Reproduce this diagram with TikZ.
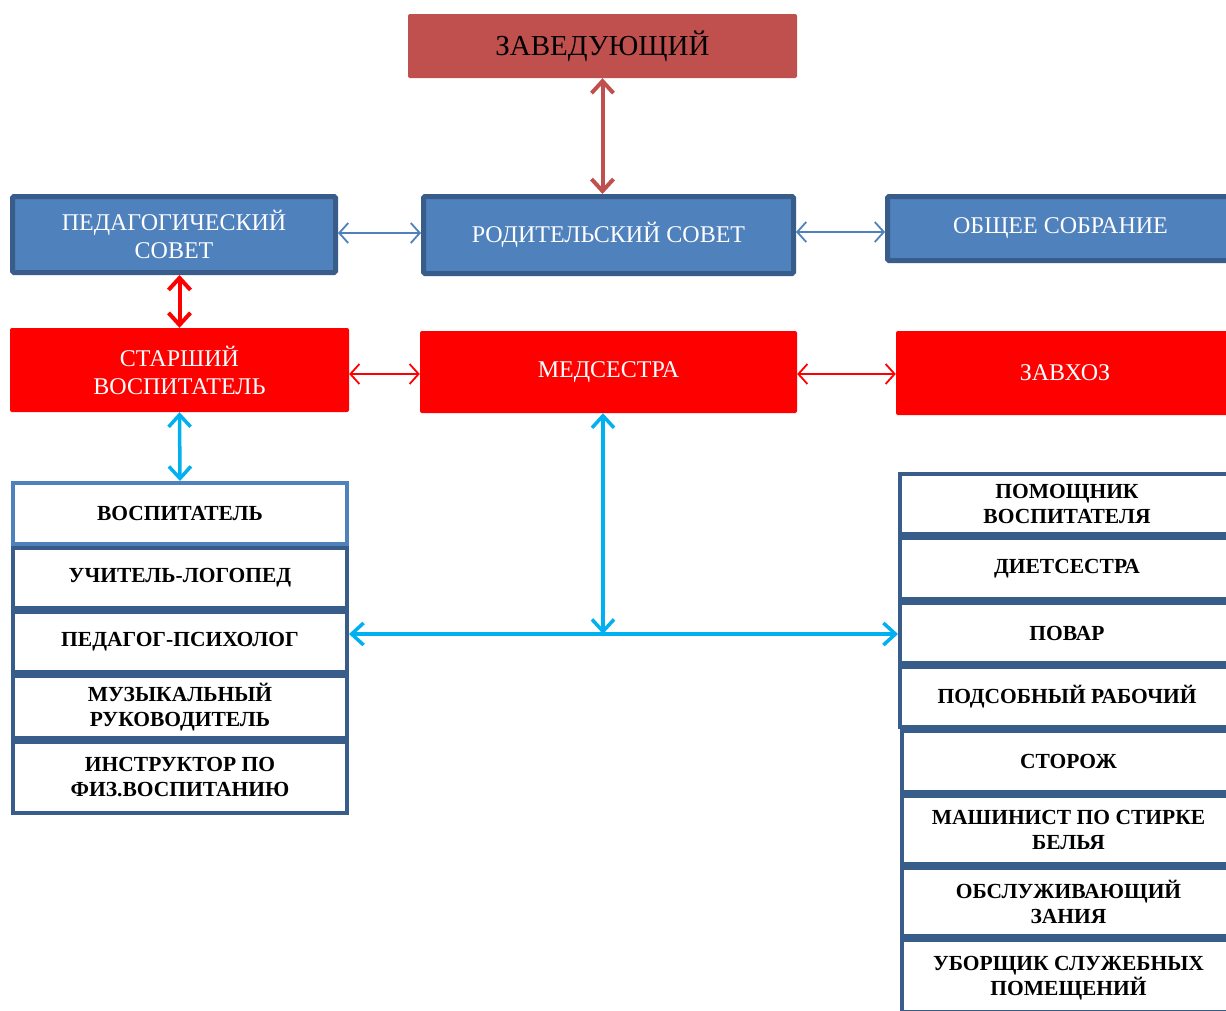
\documentclass[tikz,border=0pt]{standalone}
\usepackage{fontspec}
\setmainfont{Liberation Serif}
\usetikzlibrary{arrows.meta}
\definecolor{zred}{HTML}{C0504D}
\definecolor{bfill}{HTML}{4F81BD}
\definecolor{bline}{HTML}{385D8A}
\definecolor{pred}{HTML}{FF0000}
\definecolor{cyanc}{HTML}{00B0F0}
\tikzset{
  headfont/.style={font=\fontsize{24}{28}\selectfont},
  listfont/.style={font=\bfseries\fontsize{21.5}{25}\selectfont},
  bluebox/.style={draw=bline, line width=5pt, fill=bfill, text=white, headfont, align=center, rounded corners=1.5pt, inner sep=0pt},
  redbox/.style={fill=pred, text=white, headfont, align=center, rounded corners=2pt, inner sep=0pt},
  listbox/.style={draw=bline, line width=4pt, fill=white, text=black, listfont, align=center, inner sep=0pt, minimum width=334pt},
  thinarr/.style={line width=1.8pt, {Straight Barb[length=9pt,width=20pt]}-{Straight Barb[length=9pt,width=20pt]}},
  thickarr/.style={line width=4pt, {Straight Barb[length=12pt,width=22pt]}-{Straight Barb[length=12pt,width=22pt]}},
}
\begin{document}
\begin{tikzpicture}[x=1pt,y=-1pt]
\clip (0,0) rectangle (1226,1010);
\fill[white] (0,0) rectangle (1226,1010);
% top
\node[fill=zred, rounded corners=2pt, minimum width=389pt, minimum height=64pt, inner sep=0pt, font=\fontsize{29}{33}\selectfont] (zav) at (602.5,46) {ЗАВЕДУЮЩИЙ};
% blue row
\node[bluebox, minimum width=323pt, minimum height=76pt] (ped) at (174,234.5) {ПЕДАГОГИЧЕСКИЙ\\СОВЕТ};
\node[bluebox, minimum width=370pt, minimum height=77pt] (rod) at (608.5,235) {РОДИТЕЛЬСКИЙ СОВЕТ};
\node[bluebox, minimum width=346pt, minimum height=64pt] (obs) at (1060.5,228.5) {ОБЩЕЕ СОБРАНИЕ};
% red row
\node[redbox, minimum width=339pt, minimum height=84pt] (star) at (179.5,370) {СТАРШИЙ\\ВОСПИТАТЕЛЬ};
\node[redbox, minimum width=377pt, minimum height=82pt] (med) at (608.5,372) {МЕДСЕСТРА};
\node[redbox, minimum width=338pt, minimum height=84pt] (zavhoz) at (1065,373) {ЗАВХОЗ};
% left list
\node[listbox, draw=bfill, minimum height=61pt] (vos) at (180,513.5) {ВОСПИТАТЕЛЬ};
\node[listbox, minimum height=60pt] (uch) at (180,578) {УЧИТЕЛЬ-ЛОГОПЕД};
\node[listbox, minimum height=60pt] (psy) at (180,642) {ПЕДАГОГ-ПСИХОЛОГ};
\node[listbox, minimum height=62pt] (muz) at (180,707) {МУЗЫКАЛЬНЫЙ\\РУКОВОДИТЕЛЬ};
\node[listbox, minimum height=71pt] (ins) at (180,777.5) {ИНСТРУКТОР ПО\\ФИЗ.ВОСПИТАНИЮ};
% right list
\node[listbox, minimum height=60pt] (pom) at (1067,504) {ПОМОЩНИК\\ВОСПИТАТЕЛЯ};
\node[listbox, minimum height=61pt] (diet) at (1067,568.5) {ДИЕТСЕСТРА};
\node[listbox, minimum height=60pt] (pov) at (1067,633) {ПОВАР};
\node[listbox, minimum height=60pt] (pod) at (1067,697) {ПОДСОБНЫЙ РАБОЧИЙ};
\node[listbox, minimum height=61pt] (stor) at (1068.5,761.5) {СТОРОЖ};
\node[listbox, minimum height=68pt] (mash) at (1068.5,830) {МАШИНИСТ ПО СТИРКЕ\\БЕЛЬЯ};
\node[listbox, minimum height=68pt] (obsl) at (1068.5,902) {ОБСЛУЖИВАЮЩИЙ\\ЗАНИЯ};
\node[listbox, minimum height=72pt, text depth=0pt] (ubor) at (1068.5,976) {УБОРЩИК СЛУЖЕБНЫХ\\ПОМЕЩЕНИЙ};
% connectors
\draw[thickarr, draw=zred] (zav.south) -- (zav.south |- rod.north);
\draw[thinarr, draw=bfill] (ped.east |- 0,233) -- (rod.west |- 0,233);
\draw[thinarr, draw=bfill] (rod.east |- 0,232) -- (obs.west |- 0,232);
\draw[thickarr, draw=pred] (star.north |- ped.south) -- (star.north);
\draw[thinarr, draw=pred] (star.east |- 0,374) -- (med.west |- 0,374);
\draw[thinarr, draw=pred] (med.east |- 0,374) -- (zavhoz.west |- 0,374);
\draw[thickarr, draw=cyanc, line width=3.5pt] (star.south) -- (vos.north);
\coordinate (hub) at (603,634);
\draw[thickarr, draw=cyanc, line width=3.5pt] (hub |- med.south) -- (hub);
\draw[thickarr, draw=cyanc, line width=3.5pt] (psy.east |- hub) -- (pov.west |- hub);
\end{tikzpicture}
\end{document}
